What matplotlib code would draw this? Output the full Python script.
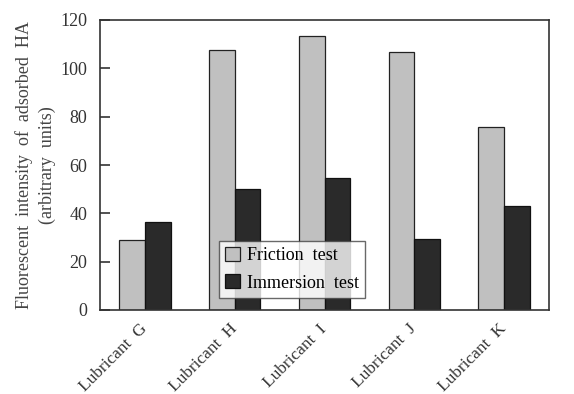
import matplotlib
matplotlib.use("Agg")
import matplotlib.pyplot as plt
import numpy as np

categories = ["Lubricant  G", "Lubricant  H", "Lubricant  I", "Lubricant  J", "Lubricant  K"]
friction = [29.0, 107.5, 113.3, 106.6, 75.6]
immersion = [36.3, 50.2, 54.8, 29.2, 43.2]
series_names = ["Friction  test", "Immersion  test"]
yticks = [0, 20, 40, 60, 80, 100, 120]

plt.rcParams['font.family'] = ['Liberation Serif', 'DejaVu Serif']

fig = plt.figure(figsize=(5.74, 3.94), dpi=100)
ax = fig.add_axes([100/574, 1 - 310/394, 449/574, 290/394])

x = np.arange(len(categories))
w = 0.286
ax.bar(x - w/2, friction, width=w, color="#c0c0c0", edgecolor="#222222", linewidth=0.9, label=series_names[0])
ax.bar(x + w/2, immersion, width=w, color="#2a2a2a", edgecolor="#111111", linewidth=0.9, label=series_names[1])

ax.set_xlim(-0.5, len(categories) - 0.5)
ax.set_ylim(0, 120)
ax.set_yticks(yticks)
ax.tick_params(axis='y', direction='in', length=7, width=1.2, labelsize=13, colors='#333333', pad=9)
ax.set_xticks(x)
ax.set_xticklabels(categories, rotation=45, ha='right', va='center', rotation_mode='anchor', fontsize=12.5, color='#333333')
ax.tick_params(axis='x', length=0, pad=12)
for s in ax.spines.values():
    s.set_linewidth(1.2)
    s.set_color('#333333')

ax.set_ylabel("Fluorescent  intensity  of  adsorbed  HA\n(arbitrary  units)", fontsize=13, color='#444444', labelpad=3, linespacing=1.45)

leg = ax.legend(loc='upper left', bbox_to_anchor=((219-100)/449, (310-241)/290),
                borderaxespad=0, fontsize=13, frameon=True, fancybox=False, edgecolor='#444444',
                handlelength=0.8, handleheight=0.8, handletextpad=0.4, borderpad=0.35, labelspacing=0.55)
leg.get_frame().set_linewidth(1.0)

fig.savefig("out.png", dpi=100)
